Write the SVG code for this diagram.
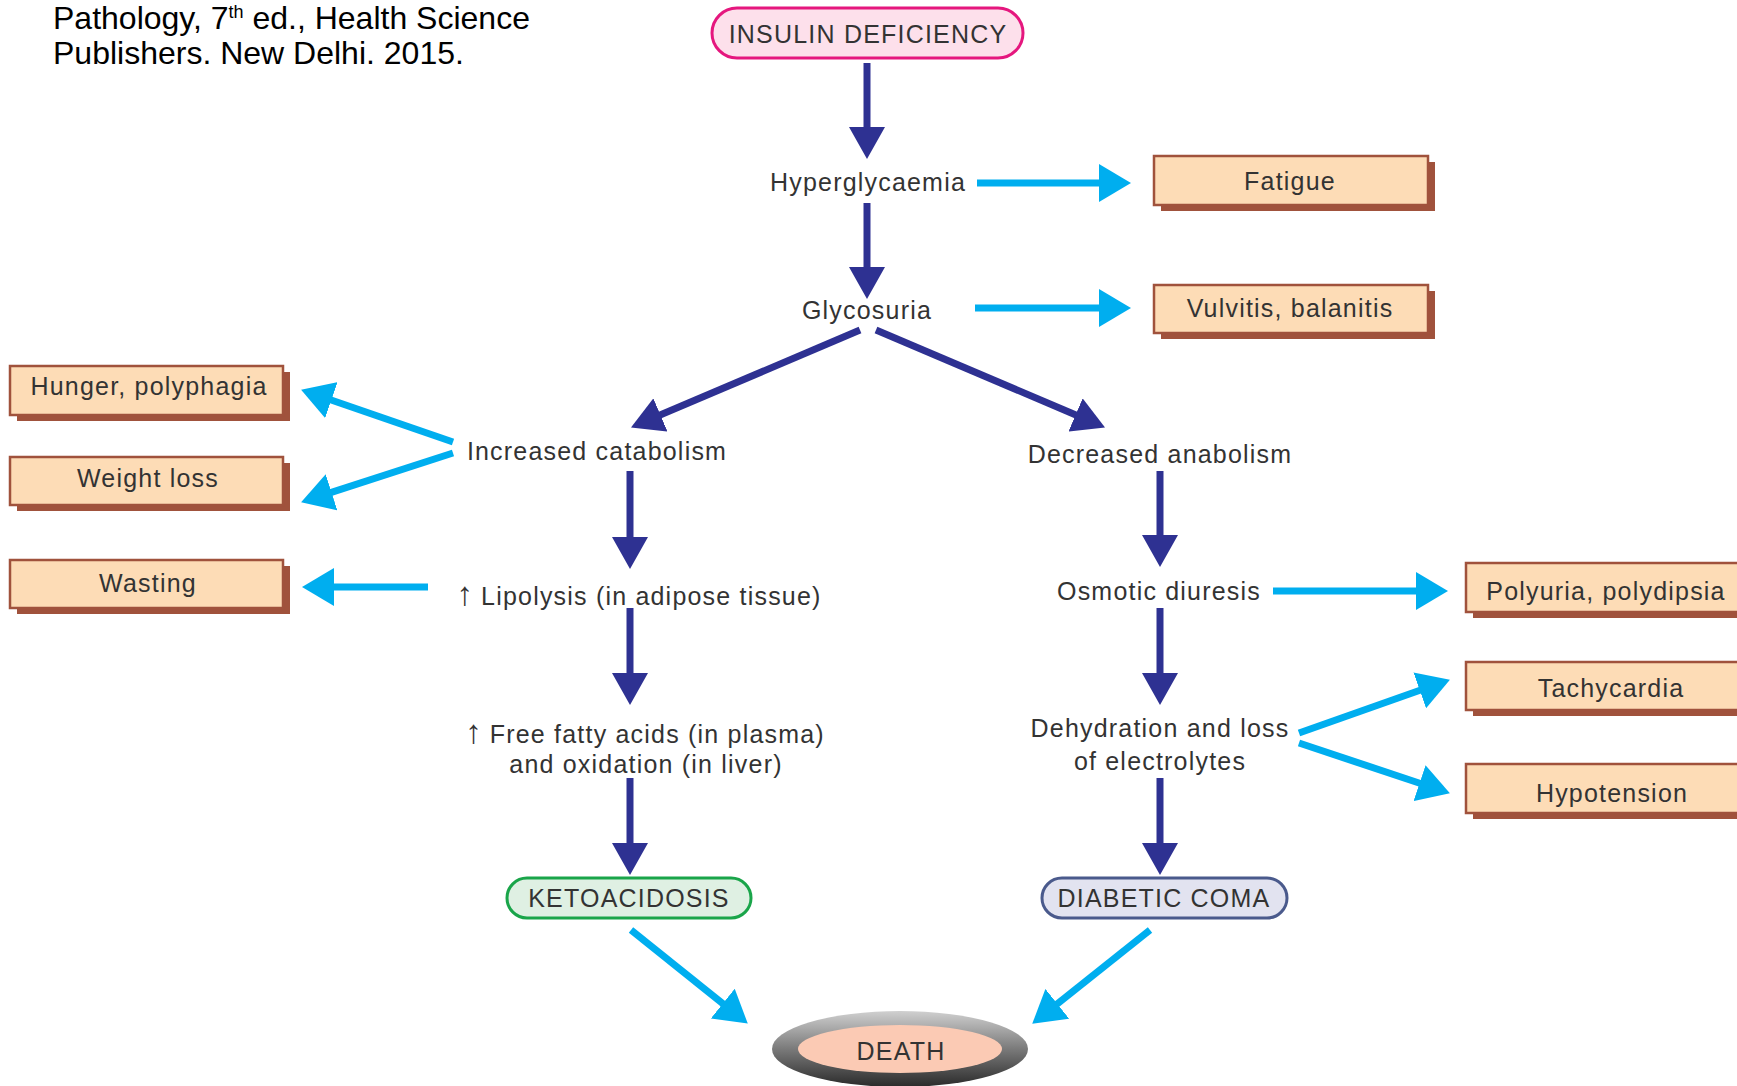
<svg xmlns="http://www.w3.org/2000/svg" width="1737" height="1086" viewBox="0 0 1737 1086">
<style>
.t{font-family:"Liberation Sans",Arial,sans-serif;font-size:25px;letter-spacing:1.2px;fill:#333;text-anchor:middle}
.up{font-size:33px;letter-spacing:0}
.cite{font-family:"Liberation Sans",Arial,sans-serif;font-size:32px;fill:#000}
.dk{stroke:#2e3192;stroke-width:7;fill:none}
.lb{stroke:#00aeef;stroke-width:7;fill:none}
.box{fill:#fddcb6;stroke:#a0523c;stroke-width:2.5}
.sh{fill:#a0523c}
</style>
<defs>
<marker id="hd" viewBox="0 0 32 36" refX="1" refY="18" markerWidth="32" markerHeight="36" markerUnits="userSpaceOnUse" orient="auto"><path d="M0,0 L32,18 L0,36 z" fill="#2e3192"/></marker>
<marker id="hb" viewBox="0 0 32 38" refX="1" refY="19" markerWidth="32" markerHeight="38" markerUnits="userSpaceOnUse" orient="auto"><path d="M0,0 L32,19 L0,38 z" fill="#00aeef"/></marker>
<linearGradient id="gr" x1="0" y1="0" x2="0" y2="1"><stop offset="0" stop-color="#d0d0d0"/><stop offset="0.5" stop-color="#7a7a7a"/><stop offset="1" stop-color="#2a2a2a"/></linearGradient>
</defs>

<g id="citation">
<text class="cite" x="53" y="29">Pathology, 7<tspan font-size="18" dy="-11">th</tspan><tspan dy="11"> ed., Health Science</tspan></text>
<text class="cite" x="53" y="64">Publishers. New Delhi. 2015.</text>
</g>

<g id="connectors">
<path class="dk" marker-end="url(#hd)" d="M867,63 V128"/>
<path class="dk" marker-end="url(#hd)" d="M867,203 V268"/>
<path class="dk" marker-end="url(#hd)" d="M860,330 L659.5,415.3"/>
<path class="dk" marker-end="url(#hd)" d="M876,330 L1076.5,415.3"/>
<path class="dk" marker-end="url(#hd)" d="M630,471 V538"/>
<path class="dk" marker-end="url(#hd)" d="M630,608 V674"/>
<path class="dk" marker-end="url(#hd)" d="M630,778 V844"/>
<path class="dk" marker-end="url(#hd)" d="M1160,471 V536"/>
<path class="dk" marker-end="url(#hd)" d="M1160,608 V674"/>
<path class="dk" marker-end="url(#hd)" d="M1160,778 V844"/>
<path class="lb" marker-end="url(#hb)" d="M977,183 H1100"/>
<path class="lb" marker-end="url(#hb)" d="M975,308 H1100"/>
<path class="lb" marker-end="url(#hb)" d="M453,442 L330.4,399.8"/>
<path class="lb" marker-end="url(#hb)" d="M453,453 L330.6,492.6"/>
<path class="lb" marker-end="url(#hb)" d="M428,587 H333"/>
<path class="lb" marker-end="url(#hb)" d="M1273,591 H1417"/>
<path class="lb" marker-end="url(#hb)" d="M1299,733 L1420.7,690"/>
<path class="lb" marker-end="url(#hb)" d="M1299,743 L1420.5,783.5"/>
<path class="lb" marker-end="url(#hb)" d="M631,930 L723.6,1004.2"/>
<path class="lb" marker-end="url(#hb)" d="M1150,930 L1056.5,1004.4"/>
</g>

<g id="insulin-deficiency">
<rect x="712" y="8" width="311" height="50" rx="25" fill="#fde0eb" stroke="#e5177e" stroke-width="3"/>
<text class="t" x="868" y="43">INSULIN DEFICIENCY</text>
</g>
<g id="hyperglycaemia"><text class="t" x="868" y="191">Hyperglycaemia</text></g>
<g id="glycosuria"><text class="t" x="867" y="319">Glycosuria</text></g>
<g id="increased-catabolism"><text class="t" x="597" y="460">Increased catabolism</text></g>
<g id="decreased-anabolism"><text class="t" x="1160" y="463">Decreased anabolism</text></g>
<g id="lipolysis"><text class="t" x="639" y="605"><tspan class="up">↑</tspan> Lipolysis (in adipose tissue)</text></g>
<g id="free-fatty-acids"><text class="t" x="645" y="743"><tspan class="up">↑</tspan> Free fatty acids (in plasma)</text><text class="t" x="646" y="773">and oxidation (in liver)</text></g>
<g id="osmotic-diuresis"><text class="t" x="1159" y="600">Osmotic diuresis</text></g>
<g id="dehydration"><text class="t" x="1160" y="737">Dehydration and loss</text><text class="t" x="1160" y="770">of electrolytes</text></g>

<g id="fatigue"><rect class="sh" x="1161" y="162" width="274" height="49"/><rect class="box" x="1154" y="156" width="274" height="49"/><text class="t" x="1290" y="190">Fatigue</text></g>
<g id="vulvitis"><rect class="sh" x="1161" y="291" width="274" height="48"/><rect class="box" x="1154" y="285" width="274" height="48"/><text class="t" x="1290" y="317">Vulvitis, balanitis</text></g>
<g id="hunger"><rect class="sh" x="17" y="372" width="273" height="49"/><rect class="box" x="10" y="366" width="273" height="49"/><text class="t" x="149" y="395">Hunger, polyphagia</text></g>
<g id="weight-loss"><rect class="sh" x="17" y="463" width="273" height="48"/><rect class="box" x="10" y="457" width="273" height="48"/><text class="t" x="148" y="487">Weight loss</text></g>
<g id="wasting"><rect class="sh" x="17" y="566" width="273" height="48"/><rect class="box" x="10" y="560" width="273" height="48"/><text class="t" x="148" y="592">Wasting</text></g>
<g id="polyuria"><rect class="sh" x="1473" y="569" width="290" height="49"/><rect class="box" x="1466" y="563" width="290" height="49"/><text class="t" x="1606" y="600">Polyuria, polydipsia</text></g>
<g id="tachycardia"><rect class="sh" x="1473" y="668" width="290" height="48"/><rect class="box" x="1466" y="662" width="290" height="48"/><text class="t" x="1611" y="697">Tachycardia</text></g>
<g id="hypotension"><rect class="sh" x="1473" y="770" width="290" height="49"/><rect class="box" x="1466" y="764" width="290" height="49"/><text class="t" x="1612" y="802">Hypotension</text></g>

<g id="ketoacidosis"><rect x="507" y="878" width="244" height="40" rx="20" fill="#dff0e3" stroke="#1aa54a" stroke-width="3"/><text class="t" x="629" y="907">KETOACIDOSIS</text></g>
<g id="diabetic-coma"><rect x="1042" y="878" width="245" height="40" rx="20" fill="#e2e3f0" stroke="#4a5a8c" stroke-width="3"/><text class="t" x="1164" y="907">DIABETIC COMA</text></g>
<g id="death"><ellipse cx="900" cy="1049" rx="128" ry="38" fill="url(#gr)"/><ellipse cx="900" cy="1049" rx="102" ry="24" fill="#fbcab4"/><text class="t" x="901" y="1060">DEATH</text></g>
</svg>
